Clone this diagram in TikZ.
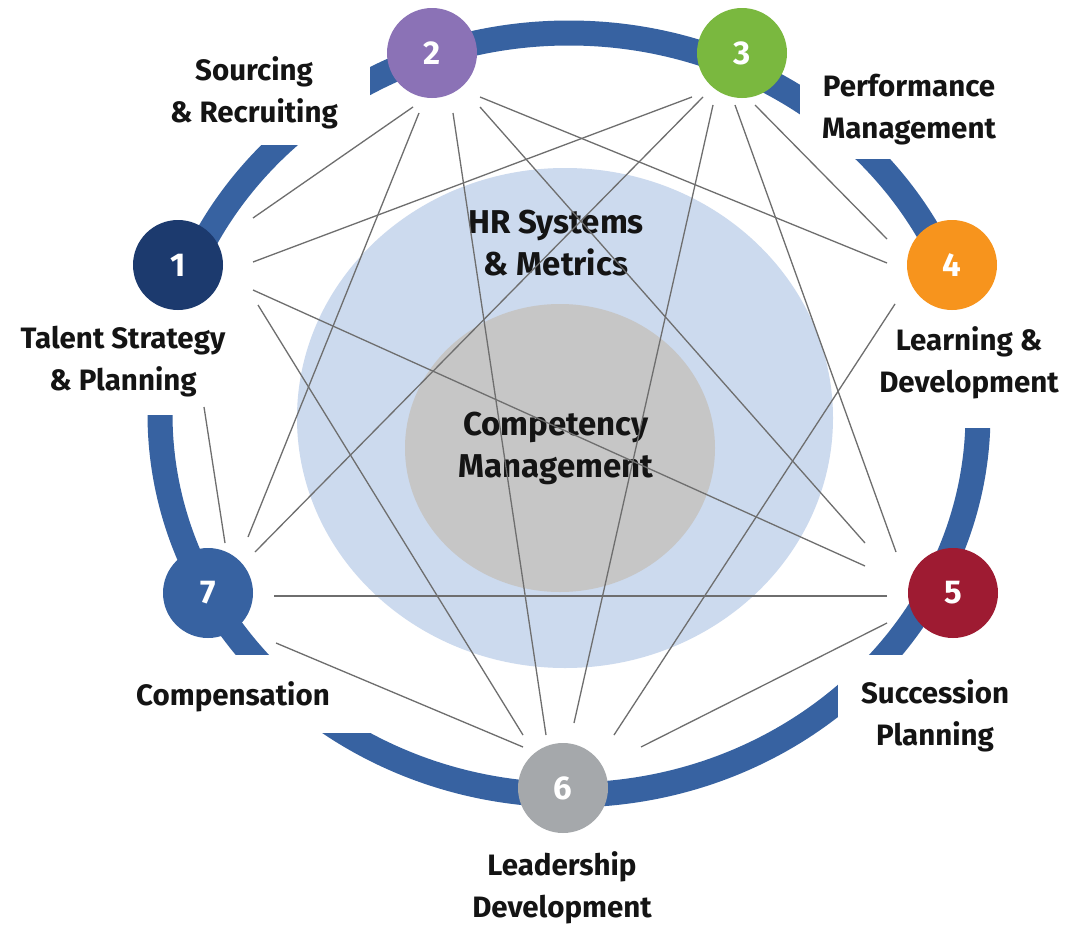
\documentclass[tikz,border=0pt]{standalone}
\usepackage{fontspec}
\setmainfont{Fira Sans}
\usetikzlibrary{calc}
\definecolor{ringblue}{RGB}{55,98,161}
\definecolor{cA}{RGB}{28,58,110}
\definecolor{cB}{RGB}{139,114,182}
\definecolor{cC}{RGB}{122,184,63}
\definecolor{cD}{RGB}{247,148,29}
\definecolor{cE}{RGB}{158,27,50}
\definecolor{cF}{RGB}{165,168,171}
\definecolor{cG}{RGB}{55,98,161}
\definecolor{lightblue}{RGB}{204,218,238}
\definecolor{coregray}{RGB}{198,198,198}
\definecolor{linegray}{RGB}{110,110,110}
\definecolor{txt}{RGB}{20,20,20}
\pgfdeclarelayer{back}
\pgfdeclarelayer{mid}
\pgfsetlayers{back,mid,main}
\begin{document}
\begin{tikzpicture}[x=1pt,y=-1pt,
  num/.style={circle, minimum size=90pt, inner sep=0pt, text=white,
    font=\fontsize{33}{33}\selectfont\bfseries},
  lbl/.style={align=center, text=txt, anchor=base, inner sep=0pt,
    font=\fontsize{29.5}{42}\selectfont\bfseries},
  core/.style={align=center, text=txt, anchor=base, inner sep=0pt,
    font=\fontsize{33}{42}\selectfont\bfseries},
  link/.style={draw=linegray, line width=1.3pt},
  cut/.style={fill=white, draw=none}]
\useasboundingbox (0,0) rectangle (1066,926);
\begin{pgfonlayer}{back}
  \fill[white] (0,0) rectangle (1066,926);
  \fill[lightblue] (565,418) ellipse [x radius=268, y radius=250];
  \fill[coregray] (560,448) ellipse [x radius=155, y radius=144];
  \node[core] (hr) at (556,275) {HR Systems\\\& Metrics};
  \node[core] (cm) at (556,477) {Competency\\Management};
  \draw[ringblue, line width=25pt] (569,414) ellipse [x radius=409, y radius=381];
  \fill[cut] (180,-10) rectangle (370,145);
  \fill[cut] (800,-10) rectangle (1076,159);
  \fill[cut] (880,270) rectangle (1076,428);
  \fill[cut] (838,655) rectangle (1076,936);
  \fill[cut] (-10,655) rectangle (400,733);
  \fill[cut] (-10,300) rectangle (250,415);
\end{pgfonlayer}

\node[num, fill=cA] (n1) at (178,265) {1};
\node[num, fill=cB] (n2) at (432,53) {2};
\node[num, fill=cC] (n3) at (742,53) {3};
\node[num, fill=cD] (n4) at (952,265) {4};
\node[num, fill=cE] (n5) at (953,593) {5};
\node[num, fill=cF] (n6) at (563,788) {6};
\node[num, fill=cG] (n7) at (208,593) {7};

\begin{pgfonlayer}{mid}
  \draw[link] ($(n1)+(75,-47)$) -- ($(n2)+(-19,54)$);
  \draw[link] ($(n1)+(75,-3)$) -- ($(n3)+(-50,44)$);
  \draw[link] ($(n1)+(75,25)$) -- ($(n5)+(-88,-27)$);
  \draw[link] ($(n1)+(80,40)$) -- ($(n6)+(-40,-53)$);
  \draw[link] ($(n1)+(26,142)$) -- ($(n7)+(17,-50)$);
  \draw[link] ($(n2)+(-13,60)$) -- ($(n7)+(40,-56)$);
  \draw[link] ($(n2)+(21,60)$) -- ($(n6)+(-17,-53)$);
  \draw[link] ($(n2)+(48,54)$) -- ($(n5)+(-88,-50)$);
  \draw[link] ($(n2)+(48,44)$) -- ($(n4)+(-65,-2)$);
  \draw[link] ($(n3)+(-39,44)$) -- ($(n7)+(47,-41)$);
  \draw[link] ($(n3)+(-29,52)$) -- ($(n6)+(11,-65)$);
  \draw[link] ($(n3)+(-7,52)$) -- ($(n5)+(-57,-41)$);
  \draw[link] ($(n3)+(13,52)$) -- ($(n4)+(-65,-26)$);
  \draw[link] ($(n4)+(-57,39)$) -- ($(n6)+(51,-53)$);
  \draw[link] ($(n5)+(-66,3)$) -- ($(n7)+(66,3)$);
  \draw[link] ($(n5)+(-66,30)$) -- ($(n6)+(78,-41)$);
  \draw[link] ($(n7)+(68,50)$) -- ($(n6)+(-40,-41)$);
\end{pgfonlayer}

\node[lbl] (l1) at (123,390) {Talent Strategy\\\& Planning};
\node[lbl] (l2) at (254,122) {Sourcing\\\& Recruiting};
\node[lbl] (l3) at (909,138) {Performance\\Management};
\node[lbl] (l4) at (969,392) {Learning \&\\Development};
\node[lbl] (l5) at (935,745) {Succession\\Planning};
\node[lbl] (l6) at (562,917) {Leadership\\Development};
\node[lbl] (l7) at (233,705) {Compensation};
\end{tikzpicture}
\end{document}
